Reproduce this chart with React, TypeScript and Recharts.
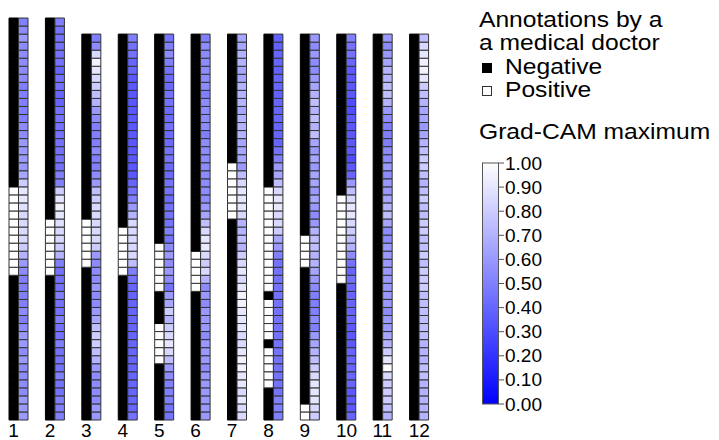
import { BarChart, Bar, XAxis, YAxis, Cell } from 'recharts'

// Rows are listed top to bottom. Annotation: 0 = negative (black), 1 = positive (white).
const columns = ['1', '2', '3', '4', '5', '6', '7', '8', '9', '10', '11', '12']

const ann1 = [0,0,0,0,0,0,0,0,0,0,0,0,0,0,0,0,0,0,0,0,0,1,1,1,1,1,1,1,1,1,1,1,0,0,0,0,0,0,0,0,0,0,0,0,0,0,0,0,0,0]
const ann2 = [0,0,0,0,0,0,0,0,0,0,0,0,0,0,0,0,0,0,0,0,0,0,0,0,0,1,1,1,1,1,1,1,0,0,0,0,0,0,0,0,0,0,0,0,0,0,0,0,0,0]
const ann3 = [0,0,0,0,0,0,0,0,0,0,0,0,0,0,0,0,0,0,0,0,0,0,0,1,1,1,1,1,1,0,0,0,0,0,0,0,0,0,0,0,0,0,0,0,0,0,0,0]
const ann4 = [0,0,0,0,0,0,0,0,0,0,0,0,0,0,0,0,0,0,0,0,0,0,0,0,1,1,1,1,1,1,0,0,0,0,0,0,0,0,0,0,0,0,0,0,0,0,0,0]
const ann5 = [0,0,0,0,0,0,0,0,0,0,0,0,0,0,0,0,0,0,0,0,0,0,0,0,0,0,1,1,1,1,1,1,0,0,0,0,1,1,1,1,1,0,0,0,0,0,0,0]
const ann6 = [0,0,0,0,0,0,0,0,0,0,0,0,0,0,0,0,0,0,0,0,0,0,0,0,0,0,0,1,1,1,1,1,0,0,0,0,0,0,0,0,0,0,0,0,0,0,0,0]
const ann7 = [0,0,0,0,0,0,0,0,0,0,0,0,0,0,0,0,1,1,1,1,1,1,1,0,0,0,0,0,0,0,0,0,0,0,0,0,0,0,0,0,0,0,0,0,0,0,0,0]
const ann8 = [0,0,0,0,0,0,0,0,0,0,0,0,0,0,0,0,0,0,0,1,1,1,1,1,1,1,1,1,1,1,1,1,0,1,1,1,1,1,0,1,1,1,1,1,0,0,0,0]
const ann9 = [0,0,0,0,0,0,0,0,0,0,0,0,0,0,0,0,0,0,0,0,0,0,0,0,0,1,1,1,1,0,0,0,0,0,0,0,0,0,0,0,0,0,0,0,0,0,1,1]
const ann10 = [0,0,0,0,0,0,0,0,0,0,0,0,0,0,0,0,0,0,0,0,1,1,1,1,1,1,1,1,1,1,1,0,0,0,0,0,0,0,0,0,0,0,0,0,0,0,0,0]
const ann11 = [0,0,0,0,0,0,0,0,0,0,0,0,0,0,0,0,0,0,0,0,0,0,0,0,0,0,0,0,0,0,0,0,0,0,0,0,0,0,0,0,0,0,0,0,0,0,0,0]
const ann12 = [0,0,0,0,0,0,0,0,0,0,0,0,0,0,0,0,0,0,0,0,0,0,0,0,0,0,0,0,0,0,0,0,0,0,0,0,0,0,0,0,0,0,0,0,0,0,0,0]

// Grad-CAM maximum per row, 0 (blue) .. 1 (white)
const cam1 = [0.5,0.55,0.6,0.55,0.55,0.55,0.55,0.55,0.5,0.5,0.5,0.5,0.5,0.55,0.55,0.6,0.6,0.6,0.6,0.65,0.8,0.9,0.9,0.88,0.85,0.85,0.85,0.85,0.8,0.7,0.6,0.55,0.5,0.5,0.5,0.5,0.55,0.5,0.55,0.6,0.6,0.55,0.6,0.55,0.55,0.55,0.55,0.6,0.6,0.6]
const cam2 = [0.5,0.45,0.45,0.45,0.45,0.45,0.4,0.45,0.45,0.4,0.4,0.45,0.45,0.45,0.45,0.45,0.45,0.45,0.45,0.5,0.5,0.8,0.9,0.95,0.9,0.88,0.85,0.85,0.8,0.7,0.5,0.45,0.45,0.45,0.5,0.45,0.45,0.5,0.45,0.45,0.5,0.45,0.45,0.45,0.5,0.45,0.45,0.5,0.5,0.5]
const cam3 = [0.5,0.55,0.85,0.95,0.9,0.85,0.8,0.75,0.7,0.6,0.55,0.5,0.5,0.5,0.55,0.5,0.5,0.55,0.6,0.75,0.8,0.85,0.85,0.85,0.85,0.85,0.8,0.6,0.55,0.55,0.55,0.6,0.55,0.55,0.6,0.65,0.75,0.8,0.8,0.75,0.7,0.6,0.55,0.55,0.55,0.55,0.6,0.6]
const cam4 = [0.5,0.45,0.45,0.4,0.4,0.35,0.35,0.35,0.35,0.35,0.35,0.35,0.35,0.35,0.35,0.35,0.35,0.35,0.4,0.45,0.5,0.6,0.7,0.85,0.85,0.85,0.85,0.85,0.75,0.5,0.45,0.4,0.4,0.4,0.4,0.4,0.4,0.4,0.4,0.4,0.4,0.4,0.4,0.4,0.4,0.4,0.4,0.45]
const cam5 = [0.45,0.5,0.55,0.5,0.45,0.42,0.42,0.45,0.45,0.42,0.42,0.45,0.42,0.42,0.45,0.45,0.42,0.42,0.45,0.45,0.42,0.45,0.45,0.45,0.5,0.45,0.55,0.6,0.55,0.6,0.55,0.45,0.6,0.65,0.8,0.7,0.8,0.85,0.9,0.85,0.75,0.6,0.55,0.5,0.5,0.5,0.45,0.45]
const cam6 = [0.5,0.55,0.55,0.55,0.55,0.55,0.55,0.5,0.55,0.55,0.55,0.55,0.5,0.55,0.55,0.55,0.55,0.55,0.55,0.55,0.55,0.6,0.65,0.75,0.85,0.9,0.92,0.85,0.8,0.85,0.7,0.55,0.6,0.55,0.6,0.6,0.6,0.55,0.6,0.6,0.6,0.55,0.6,0.6,0.6,0.6,0.6,0.6]
const cam7 = [0.65,0.65,0.7,0.7,0.65,0.65,0.7,0.7,0.7,0.65,0.7,0.7,0.7,0.65,0.65,0.65,0.6,0.75,0.85,0.9,0.9,0.9,0.85,0.7,0.7,0.75,0.7,0.8,0.85,0.9,0.85,0.9,0.95,0.95,0.9,0.9,0.9,0.85,0.85,0.9,0.95,0.95,0.9,0.9,0.85,0.9,0.85,0.85]
const cam8 = [0.38,0.38,0.4,0.4,0.38,0.4,0.4,0.38,0.4,0.4,0.4,0.4,0.4,0.4,0.45,0.5,0.6,0.65,0.75,0.85,0.9,0.9,0.85,0.85,0.8,0.65,0.6,0.5,0.45,0.45,0.45,0.45,0.45,0.45,0.45,0.45,0.45,0.45,0.45,0.45,0.45,0.45,0.45,0.45,0.45,0.5,0.5,0.5]
const cam9 = [0.6,0.55,0.6,0.55,0.55,0.6,0.65,0.7,0.75,0.7,0.75,0.7,0.75,0.65,0.6,0.65,0.6,0.65,0.65,0.6,0.65,0.6,0.55,0.6,0.7,0.75,0.75,0.7,0.7,0.65,0.6,0.55,0.5,0.5,0.5,0.55,0.5,0.6,0.65,0.7,0.75,0.8,0.85,0.9,0.9,0.9,0.85,0.8]
const cam10 = [0.5,0.45,0.45,0.4,0.35,0.35,0.35,0.35,0.3,0.3,0.35,0.35,0.35,0.35,0.35,0.3,0.35,0.4,0.6,0.75,0.85,0.9,0.9,0.85,0.8,0.75,0.7,0.55,0.45,0.4,0.45,0.4,0.4,0.4,0.4,0.4,0.35,0.35,0.35,0.4,0.4,0.4,0.4,0.4,0.35,0.35,0.35,0.4]
const cam11 = [0.6,0.55,0.6,0.65,0.7,0.7,0.75,0.75,0.7,0.6,0.55,0.5,0.5,0.5,0.55,0.55,0.6,0.55,0.6,0.6,0.65,0.7,0.75,0.65,0.55,0.55,0.6,0.6,0.6,0.6,0.6,0.6,0.6,0.6,0.55,0.6,0.6,0.65,0.7,0.8,0.9,0.98,0.85,0.8,0.8,0.8,0.75,0.7]
const cam12 = [0.75,0.85,0.9,0.95,0.95,0.9,0.8,0.75,0.7,0.65,0.65,0.6,0.65,0.7,0.75,0.8,0.8,0.75,0.7,0.75,0.8,0.75,0.75,0.8,0.8,0.75,0.75,0.8,0.75,0.8,0.8,0.8,0.75,0.75,0.75,0.75,0.75,0.75,0.7,0.7,0.7,0.75,0.75,0.7,0.7,0.7,0.7,0.7]

const colorbarTicks = ['1.00', '0.90', '0.80', '0.70', '0.60', '0.50', '0.40', '0.30', '0.20', '0.10', '0.00']

const annotations = [ann1, ann2, ann3, ann4, ann5, ann6, ann7, ann8, ann9, ann10, ann11, ann12]
const gradcam = [cam1, cam2, cam3, cam4, cam5, cam6, cam7, cam8, cam9, cam10, cam11, cam12]

const MAX_ROWS = Math.max(...annotations.map((a) => a.length))
const FONT = '"Liberation Sans", Arial, sans-serif'
const BORDER = '#333'

// every cell is one unit tall; stacks grow from the bottom so stack slot k is row (n - 1 - k)
const data = columns.map((name, c) => {
  const row: Record<string, string | number> = { name }
  const n = annotations[c].length
  for (let k = 0; k < MAX_ROWS; k++) {
    row[`a${k}`] = k < n ? 1 : 0
    row[`g${k}`] = k < n ? 1 : 0
  }
  return row
})

const camColor = (v: number) => {
  const c = Math.round(255 * v)
  return `rgb(${c},${c},255)`
}

const slots = Array.from({ length: MAX_ROWS }, (_, k) => k)

function ColumnTick({ x, y, payload }: any) {
  return (
    <text x={x - 10} y={y} dy={17} fontSize={19} fontFamily={FONT} fill="#000" textAnchor="start">
      {payload.value}
    </text>
  )
}

function Legend() {
  const barTop = 163
  const barH = 241
  const step = barH / (colorbarTicks.length - 1)
  const title = (label: string, x: number, y: number) => (
    <text transform={`translate(${x} ${y}) scale(1.12 1)`} fontSize={22} fontFamily={FONT} fill="#000">
      {label}
    </text>
  )
  return (
    <svg width={719} height={440} style={{ position: 'absolute', left: 0, top: 0, pointerEvents: 'none' }}>
      <defs>
        <linearGradient id="camGrad" x1="0" y1="0" x2="0" y2="1">
          <stop offset="0%" stopColor="#ffffff" />
          <stop offset="100%" stopColor="#0000ff" />
        </linearGradient>
      </defs>
      {title('Annotations by a', 479, 27)}
      {title('a medical doctor', 479, 50)}
      <rect x={482} y={63} width={10} height={10} fill="#000" />
      {title('Negative', 505, 74)}
      <rect x={482.5} y={86.5} width={9} height={9} fill="#fff" stroke={BORDER} />
      {title('Positive', 505, 97)}
      {title('Grad-CAM maximum', 479, 139)}
      <rect x={482.5} y={barTop} width={16} height={barH} fill="url(#camGrad)" stroke="#555" />
      {colorbarTicks.map((t, i) => (
        <g key={t}>
          <line x1={498.5} x2={504} y1={barTop + i * step} y2={barTop + i * step} stroke="#555" />
          <text x={505} y={barTop + i * step + 6.5} fontSize={19} fontFamily={FONT} fill="#000">
            {t}
          </text>
        </g>
      ))}
    </svg>
  )
}

export default function App() {
  return (
    <div style={{ position: 'absolute', left: 0, top: 0, width: 719, height: 440, background: '#fff' }}>
      <BarChart
        width={437}
        height={440}
        data={data}
        margin={{ top: 18, right: 0, bottom: 0, left: 0 }}
        barSize={9.5}
        barGap={0}
      >
        <XAxis
          dataKey="name"
          axisLine={false}
          tickLine={false}
          tickSize={0}
          tickMargin={0}
          height={20}
          interval={0}
          tick={<ColumnTick />}
        />
        <YAxis hide type="number" domain={[0, MAX_ROWS]} />
        {slots.map((k) => (
          <Bar key={`a${k}`} dataKey={`a${k}`} stackId="ann" isAnimationActive={false}>
            {data.map((_, c) => {
              const n = annotations[c].length
              const v = k < n ? annotations[c][n - 1 - k] : 0
              return <Cell key={c} fill={v ? '#fff' : '#000'} stroke={v ? BORDER : '#000'} strokeWidth={1} />
            })}
          </Bar>
        ))}
        {slots.map((k) => (
          <Bar key={`g${k}`} dataKey={`g${k}`} stackId="cam" isAnimationActive={false}>
            {data.map((_, c) => {
              const n = gradcam[c].length
              const v = k < n ? gradcam[c][n - 1 - k] : 1
              return <Cell key={c} fill={camColor(v)} stroke={BORDER} strokeWidth={1} />
            })}
          </Bar>
        ))}
      </BarChart>
      <Legend />
    </div>
  )
}
